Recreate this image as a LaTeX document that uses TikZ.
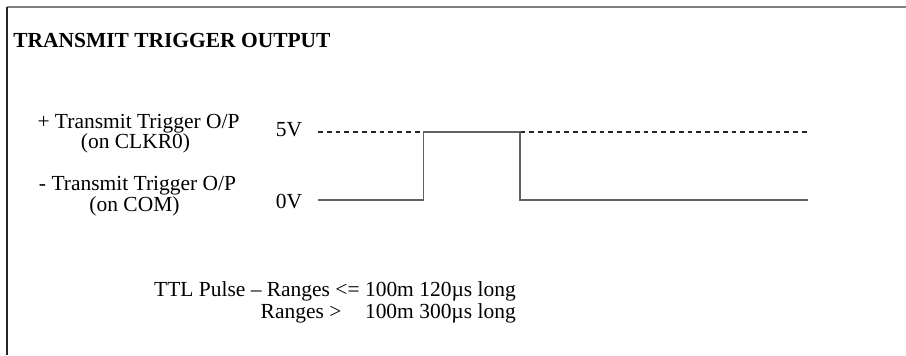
\documentclass[tikz,border=0pt]{standalone}
\usepackage{fontspec}
\setmainfont{Liberation Serif}
\begin{document}
\begin{tikzpicture}[x=0.75pt,y=-0.75pt,
  lbl/.style={inner sep=0pt,font=\fontsize{16.1}{19}\selectfont},
  sig/.style={draw=black!62,line width=1pt},
  ref/.style={draw=black!85,line width=0.8pt,dash pattern=on 3.6pt off 3pt}]
\useasboundingbox (0,0) rectangle (906,355);
% frame
\draw[draw=black!50,line width=1.2pt] (7,7) -- (906,7);
\draw[draw=black!85,line width=0.8pt] (7,7) -- (7,355);
% title
\node[lbl,anchor=base west,font=\fontsize{16.1}{19}\selectfont\bfseries] (title) at (13,47.5) {TRANSMIT TRIGGER OUTPUT};
% left labels
\node[lbl,anchor=base] (pos1) at (138.5,128.5) {+ Transmit Trigger O/P};
\node[lbl,anchor=base] (pos2) at (135.5,148.5) {(on CLKR0)};
\node[lbl,anchor=base] (neg1) at (137.5,190) {- Transmit Trigger O/P};
\node[lbl,anchor=base] (neg2) at (134.5,211) {(on COM)};
\node[lbl,anchor=base] (v5) at (289,136) {5V};
\node[lbl,anchor=base] (v0) at (289,208) {0V};
% signal
\coordinate (d0) at (318,132);
\coordinate (d1) at (808,132);
\coordinate (z0) at (318,200);
\coordinate (r0) at (423.5,200);
\coordinate (r1) at (423.5,132);
\coordinate (f1) at (520,132);
\coordinate (f0) at (520,200);
\coordinate (z1) at (808,200);
\draw[ref] (d0) -- (d1);
\draw[sig] (z0) -- (r0) -- (r1) -- (f1) -- (f0) -- (z1);
% note
\node[lbl,anchor=base east] (note1) at (516,296) {TTL Pulse – Ranges <= 100m 120µs long};
\node[lbl,anchor=base east] (note2) at (516,318) {Ranges >\hspace{1.1em}100m 300µs long};
\end{tikzpicture}
\end{document}
